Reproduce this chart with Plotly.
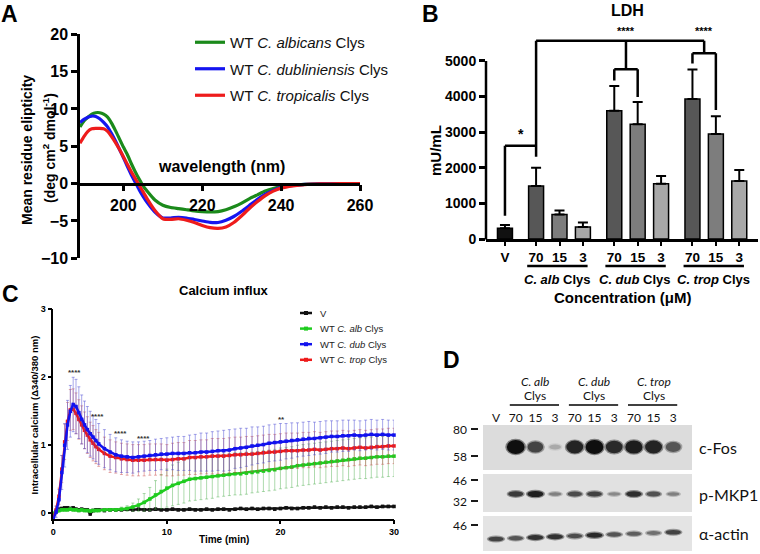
import plotly.graph_objects as go

W, H = 760, 554
def fx(p):
    return p / W
def fy(p):
    return 1 - p / H

FONT = "Liberation Sans, Arial, sans-serif"
DFONT = "Lato, Open Sans, sans-serif"

# ---------------- Panel A: CD spectra ----------------
WAVELENGTH = [189, 190, 191, 192, 193, 194, 195, 196, 197, 198, 199, 200, 201, 202, 203, 204, 205, 206,
              208, 210, 212, 214, 216, 218, 220, 222, 224, 226, 228, 230, 232, 234, 236, 238, 240,
              243, 246, 250, 255, 260]
CD_ALBICANS = [7.6, 8.4, 8.9, 9.3, 9.5, 9.5, 9.3, 8.9, 8.1, 7.1, 6.0, 4.9, 3.9, 2.7, 1.6, 0.6, -0.3, -1.0,
               -2.2, -2.9, -3.2, -3.35, -3.5, -3.65, -3.75, -3.8, -3.75, -3.5, -3.1, -2.6, -2.0, -1.5, -1.0, -0.65, -0.4,
               -0.2, -0.1, -0.03, 0.0, 0.0]
CD_DUBLINIENSIS = [8.2, 8.6, 8.9, 9.05, 9.0, 8.7, 8.2, 7.6, 6.7, 5.7, 4.6, 3.5, 2.3, 1.2, 0.2, -0.8, -1.7, -2.5,
                   -3.8, -4.6, -4.6, -4.5, -4.6, -4.8, -5.0, -5.2, -5.2, -4.9, -4.4, -3.7, -2.9, -2.1, -1.4, -0.9, -0.5,
                   -0.25, -0.1, -0.03, 0.0, 0.0]
CD_TROPICALIS = [5.4, 6.3, 7.0, 7.35, 7.4, 7.4, 7.35, 7.0, 6.3, 5.5, 4.6, 3.6, 2.6, 1.6, 0.7, -0.2, -1.1, -2.0,
                 -3.6, -4.7, -4.8, -4.7, -4.9, -5.2, -5.6, -5.9, -6.0, -5.8, -5.2, -4.3, -3.3, -2.4, -1.6, -1.0, -0.6,
                 -0.3, -0.12, -0.04, 0.0, 0.0]
CD_NAMES = ["WT <i>C. albicans</i> Clys", "WT <i>C. dubliniensis</i> Clys", "WT <i>C. tropicalis</i> Clys"]
CD_COLORS = ["#1b8a1b", "#1515f0", "#ee1c1c"]

# ---------------- Panel B: LDH ----------------
LDH_V_MEAN = 300
LDH_V_ERR = 90
LDH_GROUPS = ["C. alb", "C. dub", "C. trop"]
LDH_CONC = ["70", "15", "3"]
LDH_MEAN_ALB = [1490, 690, 340]
LDH_MEAN_DUB = [3600, 3220, 1550]
LDH_MEAN_TROP = [3930, 2950, 1630]
LDH_ERR_ALB = [510, 110, 120]
LDH_ERR_DUB = [700, 630, 220]
LDH_ERR_TROP = [830, 500, 310]
LDH_TICKS = [0, 1000, 2000, 3000, 4000, 5000]

# ---------------- Panel C: calcium influx ----------------
TIME = [0, 0.25, 0.5, 0.75, 1, 1.25, 1.5, 1.75, 2, 2.25, 2.5, 2.75, 3, 3.25, 3.5, 3.75, 4,
        4.5, 5, 5.5, 6, 6.5, 7, 7.5, 8, 8.5, 9, 9.5, 10, 10.5, 11, 11.5, 12, 12.5, 13, 13.5, 14, 14.5, 15,
        15.5, 16, 16.5, 17, 17.5, 18, 18.5, 19, 19.5, 20, 20.5, 21, 21.5, 22, 22.5, 23, 23.5, 24, 24.5, 25,
        25.5, 26, 26.5, 27, 27.5, 28, 28.5, 29, 29.5, 30]
CA_V = [-0.02, 0.03, 0.06, 0.07, 0.08, 0.08, 0.07, 0.08, 0.06, 0.05, 0.06, 0.05, 0.05, -0.01, 0.04, 0.05, 0.05,
        0.04, 0.05, 0.05, 0.05, 0.06, 0.05, 0.06, 0.05, 0.05, 0.06, 0.05, 0.05, 0.06, 0.05, 0.05, 0.06, 0.05, 0.05,
        0.06, 0.05, 0.06, 0.06, 0.05, 0.06, 0.07, 0.06, 0.07, 0.06, 0.07, 0.07, 0.06, 0.07, 0.08, 0.07, 0.07, 0.08,
        0.08, 0.09, 0.08, 0.09, 0.08, 0.09, 0.09, 0.08, 0.09, 0.09, 0.09, 0.1, 0.09, 0.1, 0.1, 0.1]
CA_ALB = [0.0, 0.02, 0.04, 0.05, 0.05, 0.05, 0.06, 0.05, 0.05, 0.04, 0.05, 0.04, 0.04, 0.03, 0.04, 0.04, 0.04,
          0.05, 0.05, 0.05, 0.06, 0.07, 0.09, 0.12, 0.16, 0.21, 0.27, 0.32, 0.37, 0.41, 0.44, 0.47, 0.5, 0.51, 0.52,
          0.53, 0.54, 0.55, 0.56, 0.57, 0.58, 0.58, 0.59, 0.6, 0.61, 0.62, 0.63, 0.64, 0.66, 0.67, 0.68, 0.7, 0.71,
          0.72, 0.73, 0.74, 0.75, 0.76, 0.77, 0.78, 0.79, 0.8, 0.81, 0.81, 0.82, 0.83, 0.83, 0.84, 0.84]
CA_DUB = [-0.08, 0.02, 0.2, 0.6, 1.0, 1.3, 1.5, 1.6, 1.57, 1.48, 1.38, 1.3, 1.23, 1.17, 1.12, 1.07, 1.02,
          0.95, 0.9, 0.86, 0.84, 0.83, 0.82, 0.83, 0.84, 0.85, 0.86, 0.87, 0.87, 0.88, 0.88, 0.88, 0.89, 0.89, 0.9,
          0.9, 0.91, 0.92, 0.92, 0.93, 0.95, 0.96, 0.97, 0.99, 1.0, 1.01, 1.03, 1.04, 1.05, 1.06, 1.07, 1.08, 1.09,
          1.1, 1.1, 1.11, 1.12, 1.13, 1.13, 1.14, 1.14, 1.15, 1.14, 1.15, 1.16, 1.15, 1.16, 1.15, 1.15]
CA_TROP = [-0.05, 0.05, 0.25, 0.65, 1.05, 1.35, 1.52, 1.53, 1.47, 1.38, 1.3, 1.22, 1.15, 1.08, 1.03, 0.98, 0.94,
           0.88, 0.84, 0.82, 0.8, 0.79, 0.78, 0.78, 0.78, 0.79, 0.79, 0.79, 0.78, 0.79, 0.8, 0.8, 0.82, 0.82, 0.83,
           0.83, 0.84, 0.84, 0.84, 0.85, 0.86, 0.86, 0.87, 0.87, 0.88, 0.89, 0.9, 0.9, 0.91, 0.92, 0.92, 0.92, 0.93,
           0.93, 0.94, 0.93, 0.94, 0.95, 0.95, 0.96, 0.95, 0.96, 0.97, 0.96, 0.97, 0.98, 0.98, 0.99, 0.99]
ERR_V = [0.02, 0.02, 0.02, 0.02, 0.02, 0.02, 0.02, 0.02, 0.02, 0.02, 0.02, 0.02, 0.02, 0.02, 0.02, 0.02, 0.02,
         0.02, 0.02, 0.02, 0.02, 0.02, 0.02, 0.02, 0.02, 0.02, 0.02, 0.02, 0.02, 0.02, 0.02, 0.02, 0.02, 0.02, 0.02,
         0.02, 0.02, 0.02, 0.02, 0.02, 0.02, 0.02, 0.02, 0.02, 0.02, 0.02, 0.02, 0.02, 0.02, 0.02, 0.02, 0.02, 0.02,
         0.02, 0.02, 0.02, 0.02, 0.02, 0.02, 0.02, 0.02, 0.02, 0.02, 0.02, 0.02, 0.02, 0.02, 0.02, 0.02]
ERR_ALB = [0.02, 0.02, 0.02, 0.02, 0.02, 0.02, 0.02, 0.02, 0.02, 0.02, 0.02, 0.02, 0.02, 0.02, 0.02, 0.02, 0.02,
           0.02, 0.02, 0.02, 0.03, 0.04, 0.06, 0.09, 0.13, 0.17, 0.21, 0.25, 0.28, 0.3, 0.31, 0.32, 0.32, 0.32, 0.32,
           0.32, 0.32, 0.31, 0.31, 0.31, 0.31, 0.31, 0.31, 0.3, 0.3, 0.3, 0.3, 0.3, 0.3, 0.3, 0.3, 0.3, 0.3,
           0.3, 0.3, 0.3, 0.3, 0.3, 0.3, 0.3, 0.3, 0.3, 0.3, 0.3, 0.3, 0.3, 0.3, 0.3, 0.3]
ERR_DUB = [0.05, 0.08, 0.15, 0.25, 0.32, 0.36, 0.38, 0.4, 0.4, 0.38, 0.36, 0.35, 0.34, 0.33, 0.32, 0.31, 0.3,
           0.28, 0.26, 0.25, 0.24, 0.23, 0.23, 0.22, 0.22, 0.22, 0.23, 0.23, 0.24, 0.24, 0.25, 0.25, 0.26, 0.27, 0.28,
           0.28, 0.29, 0.29, 0.3, 0.3, 0.29, 0.29, 0.28, 0.28, 0.27, 0.27, 0.27, 0.27, 0.27, 0.26, 0.26, 0.25, 0.25,
           0.25, 0.24, 0.24, 0.24, 0.23, 0.23, 0.23, 0.23, 0.22, 0.22, 0.22, 0.22, 0.22, 0.22, 0.22, 0.22]
ERR_TROP = [0.04, 0.06, 0.12, 0.2, 0.26, 0.28, 0.3, 0.3, 0.3, 0.29, 0.28, 0.27, 0.27, 0.26, 0.26, 0.25, 0.25,
            0.24, 0.24, 0.23, 0.23, 0.23, 0.23, 0.23, 0.23, 0.23, 0.23, 0.23, 0.23, 0.24, 0.24, 0.24, 0.25, 0.25, 0.25,
            0.25, 0.26, 0.26, 0.26, 0.26, 0.26, 0.26, 0.26, 0.26, 0.26, 0.26, 0.26, 0.26, 0.26, 0.26, 0.26, 0.26, 0.26,
            0.26, 0.26, 0.26, 0.26, 0.26, 0.26, 0.26, 0.26, 0.26, 0.26, 0.26, 0.26, 0.26, 0.26, 0.26, 0.26]
CA_NAMES = ["V", "WT <i>C. alb</i> Clys", "WT <i>C. dub</i> Clys", "WT <i>C. trop</i> Clys"]
CA_SIG_T = [1.9, 3.9, 5.9, 7.9, 20.1, 30.1]
CA_SIG_Y = [2.07, 1.42, 1.17, 1.1, 1.38, 1.42]
CA_SIG_TXT = ["****", "****", "****", "****", "**", "****"]

# ---------------- Panel D: western blot ----------------
BLOT_LANES = ["V", "70", "15", "3", "70", "15", "3", "70", "15", "3"]
BLOT_GROUPS = ["C. alb", "C. dub", "C. trop"]
CFOS = [0.0, 1.0, 0.7, 0.12, 0.88, 1.0, 0.85, 0.92, 0.88, 0.6]
PMKP1 = [0.0, 0.75, 0.9, 0.35, 0.65, 0.72, 0.3, 0.82, 0.62, 0.35]
ACTIN = [0.7, 0.6, 0.8, 0.8, 0.65, 0.85, 0.6, 0.55, 0.45, 0.7]
MW_LABELS = ["80", "58", "46", "32", "46"]
BLOT_NAMES = ["c-Fos", "p-MKP1", "α-actin"]

fig = go.Figure()
shapes = []
ann = []

def note(xp, yp, text, size, family=FONT, color="black", xanchor="center", yanchor="middle", angle=0,
         xref="paper", yref="paper"):
    ann.append(dict(x=xp, y=yp, xref=xref, yref=yref, text=text, showarrow=False, xanchor=xanchor,
                    yanchor=yanchor, textangle=angle, font=dict(size=size, family=family, color=color)))

# ======== Panel A ========
A_DOM_Y = [fy(258.3), fy(34.3)]
A_RANGE_Y = [-10, 20]
zero_pos = A_DOM_Y[0] + (0 - A_RANGE_Y[0]) / (A_RANGE_Y[1] - A_RANGE_Y[0]) * (A_DOM_Y[1] - A_DOM_Y[0])
for k, (name, vals, col) in enumerate(zip(CD_NAMES, [CD_ALBICANS, CD_DUBLINIENSIS, CD_TROPICALIS], CD_COLORS)):
    fig.add_trace(go.Scatter(x=WAVELENGTH, y=vals, mode="lines", name=name, legendgroup="g%d" % k,
                             line=dict(color=col, width=3.2, shape="spline", smoothing=0.5),
                             xaxis="x", yaxis="y", legend="legend", hoverinfo="skip"))

# ======== Panel B ========
b_pos, b_mean, b_err, b_col, b_lab = [0.0], [LDH_V_MEAN], [LDH_V_ERR], ["#111111"], ["V"]
conc_cols = ["#575757", "#7d7d7d", "#a8a8a8"]
group_start = []
for g, (m, e) in enumerate(zip([LDH_MEAN_ALB, LDH_MEAN_DUB, LDH_MEAN_TROP],
                               [LDH_ERR_ALB, LDH_ERR_DUB, LDH_ERR_TROP])):
    start = 1.33 + g * 3.34
    group_start.append(start)
    for j in range(3):
        b_pos.append(start + j)
        b_mean.append(m[j])
        b_err.append(e[j])
        b_col.append(conc_cols[j])
        b_lab.append(LDH_CONC[j])
fig.add_trace(go.Bar(x=b_pos, y=b_mean, width=0.64,
                     marker=dict(color=b_col, line=dict(color="black", width=1.5)),
                     error_y=dict(type="data", array=b_err, arrayminus=[0] * len(b_err), symmetric=False,
                                  color="black", thickness=2, width=5),
                     xaxis="x2", yaxis="y2", showlegend=False, hoverinfo="skip"))

def seg(x0, y0, x1, y1):
    shapes.append(dict(type="line", xref="x2", yref="y2", x0=x0, y0=y0, x1=x1, y1=y1,
                       line=dict(color="black", width=2.5)))
p70a = b_pos[1]
seg(b_pos[0], 2620, p70a, 2620)
seg(b_pos[0], 2620, b_pos[0], 650)
seg(p70a, 5570, p70a, 2310)
dub_c = (b_pos[4] + b_pos[5]) / 2
trop_c = (b_pos[7] + b_pos[8]) / 2
seg(p70a, 5570, trop_c, 5570)
seg(dub_c, 5570, dub_c, 4770)
seg(b_pos[4], 4770, b_pos[5], 4770)
seg(b_pos[4], 4770, b_pos[4], 4450)
seg(b_pos[5], 4770, b_pos[5], 3990)
seg(trop_c, 5570, trop_c, 5220)
seg(b_pos[7], 5220, b_pos[8], 5220)
seg(b_pos[7], 5220, b_pos[7], 4930)
seg(b_pos[8], 5220, b_pos[8], 3620)
note((b_pos[0] + p70a) / 2, 2660, "<b>*</b>", 14, xref="x2", yref="y2", yanchor="bottom")
for xc in [dub_c, trop_c]:
    note(xc, 5610, "<b>****</b>", 11, xref="x2", yref="y2", yanchor="bottom")
shapes.append(dict(type="line", xref="paper", yref="paper", x0=fx(486), x1=fx(486), y0=fy(239.5), y1=fy(61),
                   line=dict(color="black", width=2.5)))
for g, s in enumerate(group_start):
    shapes.append(dict(type="line", xref="x2", yref="paper", x0=s - 0.38, x1=s + 2.2, y0=fy(266), y1=fy(266),
                       line=dict(color="black", width=2.5)))
    note(s + 0.9, fy(279), "<b><i>" + LDH_GROUPS[g] + "</i> Clys</b>", 13, xref="x2")
note(fx(623), fy(297.5), "<b>Concentration (μM)</b>", 15)
note(fx(627), fy(11), "<b>LDH</b>", 16)
note(fx(435), fy(150), "<b>mU/mL</b>", 15, angle=-90)

# ======== Panel C ========
ca_series = [(CA_V, ERR_V, "#111111", "rgba(60,60,60,0.6)"),
             (CA_ALB, ERR_ALB, "#1fcc1f", "rgba(70,170,70,0.55)"),
             (CA_TROP, ERR_TROP, "#ee1a1a", "rgba(200,70,70,0.55)"),
             (CA_DUB, ERR_DUB, "#1212ee", "rgba(70,70,210,0.6)")]
for vals, err, col, ecol in ca_series:
    fig.add_trace(go.Scatter(x=TIME, y=vals, mode="lines+markers",
                             line=dict(color=col, width=2.5),
                             marker=dict(symbol="square", size=3.5, color=col),
                             error_y=dict(type="data", array=err, color=ecol, thickness=0.8, width=1.5),
                             xaxis="x3", yaxis="y3", showlegend=False, hoverinfo="skip", cliponaxis=False))
for t, yv, s in zip(CA_SIG_T, CA_SIG_Y, CA_SIG_TXT):
    note(t, yv, "<b>" + s + "</b>", 8, color="#333333", xref="x3", yref="y3")
leg_cols = ["#111111", "#1fcc1f", "#1212ee", "#ee1a1a"]
for i, (nm, col) in enumerate(zip(CA_NAMES, leg_cols)):
    yy = 313 + i * 15.6
    shapes.append(dict(type="line", xref="paper", yref="paper", x0=fx(300), x1=fx(312), y0=fy(yy), y1=fy(yy),
                       line=dict(color=col, width=2.5)))
    shapes.append(dict(type="rect", xref="paper", yref="paper", x0=fx(304), x1=fx(308), y0=fy(yy + 2),
                       y1=fy(yy - 2), line=dict(width=0), fillcolor=col))
    note(fx(318), fy(yy), nm, 9.5, color="#222222", xanchor="left")
note(fx(224), fy(290), "<b>Calcium influx</b>", 13)
note(fx(224), fy(539), "<b>Time (min)</b>", 10)
note(fx(33.5), fy(415), "<b>Intracellular calcium (Δ340/380 nm)</b>", 9.5, angle=-90)

# ======== Panel D ========
fig.add_trace(go.Scatter(x=list(range(len(BLOT_LANES))), y=[430] * len(BLOT_LANES), mode="markers",
                         marker=dict(opacity=0), xaxis="x4", yaxis="y4", showlegend=False, hoverinfo="skip"))
strips = [(425, 470, "#dcdcdc", 447, 4, 10, 0.55, 0.35, 0.0),
          (474, 512, "#e1e1e1", 494, 2, 4.5, 0.5, 0.35, 0.0),
          (516, 551, "#e4e4e4", 539, 2.5, 3.0, 0.6, 0.25, -0.75)]
for (top, bot, bg, yc, h0, h1, w0, w1, slope), inten in zip(strips, [CFOS, PMKP1, ACTIN]):
    shapes.append(dict(type="rect", xref="paper", yref="paper", x0=fx(483), x1=fx(692), y0=fy(bot), y1=fy(top),
                       line=dict(width=0), fillcolor=bg, layer="below"))
    for i, v in enumerate(inten):
        if v <= 0:
            continue
        hh = h0 + h1 * v
        ww = w0 + w1 * v
        yy = yc + slope * i
        g_out = int(215 - 90 * v)
        g_in = int(190 - 175 * v)
        shapes.append(dict(type="circle", xref="x4", yref="y4", x0=i - ww / 2 - 0.08, x1=i + ww / 2 + 0.08,
                           y0=yy - hh / 2 - 1.2, y1=yy + hh / 2 + 1.2, line=dict(width=0),
                           fillcolor="rgb(%d,%d,%d)" % (g_out, g_out, g_out)))
        shapes.append(dict(type="circle", xref="x4", yref="y4", x0=i - ww / 2, x1=i + ww / 2,
                           y0=yy - hh / 2, y1=yy + hh / 2, line=dict(width=0),
                           fillcolor="rgb(%d,%d,%d)" % (g_in, g_in, g_in)))
for nm, yc in zip(BLOT_NAMES, [447, 494, 533]):
    note(fx(697), fy(yc), nm, 16, family=DFONT, color="#111111", xanchor="left")
for lab, yc in zip(MW_LABELS, [429, 456, 480, 501, 525]):
    note(fx(469), fy(yc), lab, 12, family=DFONT, color="#111111", xanchor="right")
    shapes.append(dict(type="line", xref="paper", yref="paper", x0=fx(471), x1=fx(478), y0=fy(yc), y1=fy(yc),
                       line=dict(color="black", width=1.8)))
for g, nm in enumerate(BLOT_GROUPS):
    c = 2 + 3 * g
    note(c, fy(381), "<i>" + nm + "</i>", 12, family=DFONT, color="#111111", xref="x4")
    note(c, fy(395), "Clys", 12, family=DFONT, color="#111111", xref="x4")
    shapes.append(dict(type="line", xref="x4", yref="paper", x0=c - 1.3, x1=c + 1.2, y0=fy(405), y1=fy(405),
                       line=dict(color="black", width=1.5)))

for L, x, y in [("A", 9, 14), ("B", 430, 14), ("C", 10, 294), ("D", 452, 360)]:
    note(fx(x), fy(y), "<b>" + L + "</b>", 23)
note(fx(27), fy(150), "<b>Mean residue elipticity</b>", 14, angle=-90)
note(fx(49), fy(148), "<b>(deg cm<sup>2</sup> dmol<sup>-1</sup>)</b>", 14, angle=-90)
note(fx(221), fy(166), "<b>wavelength (nm)</b>", 16)

def bold_tick(s):
    return dict(size=s, family=FONT, weight="bold", color="black")

common = dict(showgrid=False, zeroline=False, automargin=False, tickcolor="black", linecolor="black")

fig.update_layout(
    width=W, height=H, margin=dict(l=0, r=0, t=0, b=0, pad=0), autosize=False,
    paper_bgcolor="white", plot_bgcolor="rgba(0,0,0,0)",
    font=dict(family=FONT, color="black"),
    shapes=shapes, annotations=ann,
    showlegend=True,
    legend=dict(x=fx(190), y=fy(26), xanchor="left", yanchor="top", bgcolor="rgba(0,0,0,0)",
                font=dict(size=15, family=FONT, color="#111111"), itemwidth=30, tracegroupgap=4),
    xaxis=dict(domain=[fx(80), fx(360)], range=[189, 260], anchor="free", position=zero_pos,
               tickvals=[200, 220, 240, 260], ticks="outside", ticklen=6, tickwidth=2.5,
               showline=True, linewidth=2.5, tickfont=bold_tick(16), **common),
    yaxis=dict(domain=A_DOM_Y, range=A_RANGE_Y, anchor="x", tickvals=[-10, -5, 0, 5, 10, 15, 20],
               ticks="outside", ticklen=6, tickwidth=2.5, showline=True, linewidth=2.5,
               tickfont=bold_tick(16), **common),
    xaxis2=dict(domain=[fx(486), fx(758)], range=[-0.81, 10.81], anchor="y2",
                tickvals=b_pos, ticktext=b_lab, ticks="outside", ticklen=4, tickwidth=2,
                showline=True, linewidth=2.5, tickfont=bold_tick(13.5), **common),
    yaxis2=dict(domain=[fy(239), fy(32.5)], range=[0, 5800], anchor="x2", tickvals=LDH_TICKS,
                ticks="outside", ticklen=6, tickwidth=2.5, showline=False, tickfont=bold_tick(14), **common),
    xaxis3=dict(domain=[fx(53.3), fx(394)], range=[0, 30], anchor="y3", tickvals=[0, 10, 20, 30],
                ticks="outside", ticklen=4, tickwidth=1.5, showline=True, linewidth=1.5,
                tickfont=bold_tick(9), **common),
    yaxis3=dict(domain=[fy(518.7), fy(309.3)], range=[-0.08, 3.0], anchor="x3", tickvals=[0, 1, 2, 3],
                ticks="outside", ticklen=4, tickwidth=1.5, showline=True, linewidth=1.5,
                tickfont=bold_tick(9), **common),
    xaxis4=dict(domain=[fx(483), fx(692)], range=[-0.66, 9.95], anchor="y4", side="top",
                tickvals=list(range(len(BLOT_LANES))), ticktext=BLOT_LANES, ticks="", showline=False,
                tickfont=dict(size=12, family=DFONT, color="#111111"), **common),
    yaxis4=dict(domain=[fy(551), fy(425)], range=[551, 425], anchor="x4", visible=False, **common),
)

fig.write_html("out.html", config={"displayModeBar": False},
               post_script="document.body.style.margin='0px';")
